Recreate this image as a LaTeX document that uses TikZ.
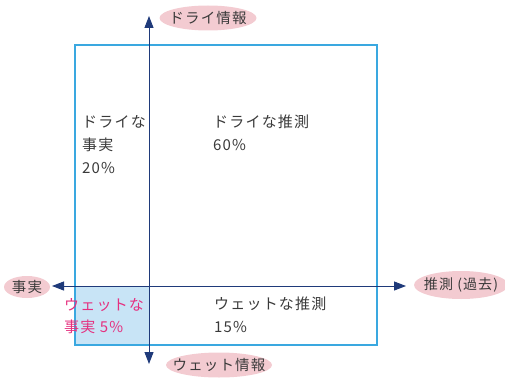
\documentclass[tikz,border=0pt]{standalone}
\usepackage{fontspec}
\setmainfont{Noto Sans CJK JP}
\newfontfamily\spacedfont[LetterSpace=8]{Noto Sans CJK JP}
\usetikzlibrary{arrows.meta,shapes.geometric}
\definecolor{boxblue}{HTML}{3AA8E0}
\definecolor{axisnavy}{HTML}{1F3A7A}
\definecolor{cellfill}{HTML}{C8E4F6}
\definecolor{pinkfill}{HTML}{F3CBD1}
\definecolor{txtgray}{HTML}{3A3A3A}
\definecolor{wetpink}{HTML}{E5307F}
\newcommand{\zw}[1]{\makebox[0pt]{#1}}
\tikzset{
  axislabel/.style={ellipse, fill=pinkfill, inner sep=0pt, text=txtgray, font=\spacedfont\fontsize{14.5}{16}\selectfont},
  celltext/.style={anchor=north west, align=left, inner sep=0pt, text=txtgray, font=\spacedfont\fontsize{15}{23}\selectfont},
  axisline/.style={draw=axisnavy, line width=1pt, {Triangle[length=12pt,width=9pt]}-{Triangle[length=12pt,width=9pt]}}
}
\begin{document}
\begin{tikzpicture}[x=1pt,y=-1pt]
\useasboundingbox (0,0) rectangle (505,377);
% shaded cell
\fill[cellfill] (75,286) rectangle (149,345);
% frame
\draw[boxblue, line width=1.2pt] (75,45) rectangle (377,345);
% axis ends
\coordinate (top) at (149,16);
\coordinate (bottom) at (149,364);
\coordinate (left) at (52,286);
\coordinate (right) at (406,286);
\draw[axisline] (bottom) -- (top);
\draw[axisline] (left) -- (right);
% axis labels
\node[axislabel, minimum width=97pt, minimum height=25pt] (dry) at (208,18) {\zw{ドライ情報}};
\node[axislabel, minimum width=106pt, minimum height=25pt] (wet) at (219,365) {\zw{ウェット情報}};
\node[axislabel, minimum width=46pt, minimum height=22pt] (fact) at (27,287) {\zw{事実}};
\node[axislabel, minimum width=94pt, minimum height=28pt] (guess) at (461,285) {\zw{\fontsize{14}{16}\selectfont 推測 (過去)}};
% cell texts
\node[celltext] (dryfact) at (82,115) {ドライな\\事実\\20\%};
\node[celltext] (dryguess) at (213,115) {ドライな推測\\60\%};
\node[celltext] (wetguess) at (214,297) {ウェットな推測\\15\%};
\node[celltext, text=wetpink, font=\spacedfont\fontsize{15}{22}\selectfont] (wetfact) at (64,298) {ウェットな\\事実 5\%};
\end{tikzpicture}
\end{document}
